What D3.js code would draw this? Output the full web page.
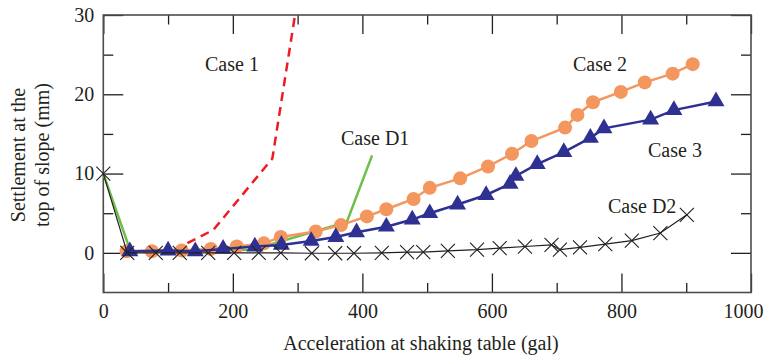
<!DOCTYPE html>
<html>
<head>
<meta charset="utf-8">
<script src="https://cdn.jsdelivr.net/npm/d3@7"></script>
<style>
  body { margin: 0; background: #fff; }
  text { font-family: "Liberation Serif", "Times New Roman", serif; fill: #231f20; }
</style>
</head>
<body>
<script>
// series (acceleration in gal, settlement in mm)
var case1X = [40, 108, 170, 261, 296];
var case1Y = [0, 0.3, 2.9, 11.9, 30];

var caseD1X = [0, 42, 230, 376, 415];
var caseD1Y = [10, 0.2, 0.4, 3.9, 12.3];

var case2X = [36, 75, 121, 166, 206, 248, 274, 328, 367, 407, 437, 479, 504, 551, 594, 631, 661, 713, 732, 756, 799, 836, 879, 910];
var case2Y = [0.2, 0.2, 0.3, 0.5, 0.8, 1.2, 2.0, 2.7, 3.5, 4.6, 5.5, 6.8, 8.2, 9.4, 10.9, 12.5, 14.1, 15.8, 17.4, 19.0, 20.3, 21.5, 22.6, 23.8];

var case3X = [41, 100, 142, 185, 234, 275, 321, 359, 391, 437, 477, 504, 547, 591, 628, 637, 670, 711, 752, 773, 845, 881, 946];
var case3Y = [0.2, 0.3, 0.2, 0.5, 0.8, 1.0, 1.5, 2.0, 2.6, 3.3, 4.2, 5.0, 6.1, 7.3, 8.7, 9.7, 11.2, 12.7, 14.5, 15.7, 16.8, 18.0, 19.1];

var caseD2X = [0, 37, 81, 118, 162, 202, 240, 274, 322, 358, 387, 430, 469, 494, 532, 577, 612, 651, 692, 705, 736, 775, 816, 860, 901];
var caseD2Y = [10, 0, 0, 0, 0, 0, 0, 0, -0.05, -0.05, -0.05, 0, 0.1, 0.1, 0.25, 0.4, 0.6, 0.8, 1.0, 0.4, 0.7, 1.1, 1.55, 2.5, 4.8];

var xMajor = [0, 200, 400, 600, 800, 1000];
var xMinor = [100, 300, 500, 700, 900];
var yMajor = [0, 10, 20, 30];
var yMinor = [5, 15, 25];

var svg = d3.select("body").append("svg").attr("width", 765).attr("height", 358);

var x = d3.scaleLinear().domain([0, 1000]).range([103.3, 751]);
var y = d3.scaleLinear().domain([-5, 30]).range([292.5, 15]);

function pts(xs, ys) { return xs.map(function(d, i) { return [d, ys[i]]; }); }
var line = d3.line().x(function(d) { return x(d[0]); }).y(function(d) { return y(d[1]); });

// axes, ticks pointing inward
function styleAxis(g) {
  g.select(".domain").remove();
  g.selectAll(".tick line").attr("stroke", "#231f20").attr("stroke-width", 1.3);
  g.selectAll("text").attr("font-size", "20px").attr("fill", "#231f20")
    .attr("font-family", "Liberation Serif, Times New Roman, serif");
}
svg.append("g").attr("transform", "translate(0," + y(-5) + ")")
  .call(d3.axisBottom(x).tickValues(xMajor).tickSize(-19).tickPadding(11).tickFormat(d3.format("d")))
  .call(styleAxis);
svg.append("g").attr("transform", "translate(0," + y(-5) + ")")
  .call(d3.axisBottom(x).tickValues(xMinor).tickSize(-9.5).tickFormat(""))
  .call(styleAxis);
svg.append("g").attr("transform", "translate(0," + y(30) + ")")
  .call(d3.axisTop(x).tickValues(xMajor).tickSize(-19).tickFormat(""))
  .call(styleAxis);
svg.append("g").attr("transform", "translate(0," + y(30) + ")")
  .call(d3.axisTop(x).tickValues(xMinor).tickSize(-9.5).tickFormat(""))
  .call(styleAxis);
svg.append("g").attr("transform", "translate(" + x(0) + ",0)")
  .call(d3.axisLeft(y).tickValues(yMajor).tickSize(-20).tickPadding(9).tickFormat(d3.format("d")))
  .call(styleAxis);
svg.append("g").attr("transform", "translate(" + x(0) + ",0)")
  .call(d3.axisLeft(y).tickValues(yMinor).tickSize(-10).tickFormat(""))
  .call(styleAxis);
svg.append("g").attr("transform", "translate(" + x(1000) + ",0)")
  .call(d3.axisRight(y).tickValues(yMajor).tickSize(-20).tickFormat(""))
  .call(styleAxis);
svg.append("g").attr("transform", "translate(" + x(1000) + ",0)")
  .call(d3.axisRight(y).tickValues(yMinor).tickSize(-10).tickFormat(""))
  .call(styleAxis);

// last label sits a little left in the original
svg.selectAll("text").filter(function() { return this.textContent == "1000"; }).attr("dx", -8);

svg.append("rect")
  .attr("x", x(0)).attr("y", y(30))
  .attr("width", x(1000) - x(0)).attr("height", y(-5) - y(30))
  .attr("fill", "none").attr("stroke", "#4d4d4d").attr("stroke-width", 1.6);

// Case D1 - green (drawn under the markers)
svg.append("path").datum(pts(caseD1X, caseD1Y)).attr("d", line)
  .attr("fill", "none").attr("stroke", "#6cbf4a").attr("stroke-width", 2.5);

// Case 1 - red dashed
svg.append("path").datum(pts(case1X, case1Y)).attr("d", line)
  .attr("fill", "none").attr("stroke", "#ed1c24").attr("stroke-width", 2.5)
  .attr("stroke-dasharray", "9,6");

// Case 2 - orange circles
svg.append("path").datum(pts(case2X, case2Y)).attr("d", line)
  .attr("fill", "none").attr("stroke", "#f4975f").attr("stroke-width", 2.5);
svg.selectAll(".c2").data(pts(case2X, case2Y)).enter().append("circle")
  .attr("cx", function(d) { return x(d[0]); }).attr("cy", function(d) { return y(d[1]); })
  .attr("r", 7).attr("fill", "#f4975f");

// Case 3 - blue triangles
svg.append("path").datum(pts(case3X, case3Y)).attr("d", line)
  .attr("fill", "none").attr("stroke", "#2e3192").attr("stroke-width", 2.5);
svg.selectAll(".c3").data(pts(case3X, case3Y)).enter().append("path")
  .attr("transform", function(d) { return "translate(" + x(d[0]) + "," + y(d[1]) + ")"; })
  .attr("d", d3.symbol().type(d3.symbolTriangle).size(125))
  .attr("fill", "#2e3192");

// Case D2 - black crosses
svg.append("path").datum(pts(caseD2X, caseD2Y)).attr("d", line)
  .attr("fill", "none").attr("stroke", "#231f20").attr("stroke-width", 1.2);
svg.selectAll(".d2").data(pts(caseD2X, caseD2Y)).enter().append("path")
  .attr("transform", function(d) { return "translate(" + x(d[0]) + "," + y(d[1]) + ")"; })
  .attr("d", "M-7,-7L7,7M-7,7L7,-7")
  .attr("stroke", "#231f20").attr("stroke-width", 1.1);

// case labels
var labels = [["Case 1", 205, 71], ["Case 2", 573, 71], ["Case 3", 648, 157], ["Case D1", 341, 145], ["Case D2", 608, 213]];
svg.selectAll(".lab").data(labels).enter().append("text")
  .attr("x", function(d) { return d[1]; }).attr("y", function(d) { return d[2]; })
  .attr("font-size", "20px")
  .text(function(d) { return d[0]; });

svg.append("text")
  .attr("x", 421).attr("y", 350).attr("text-anchor", "middle")
  .attr("font-size", "20px")
  .text("Acceleration at shaking table (gal)");

svg.append("text")
  .attr("transform", "translate(25,155) rotate(-90)").attr("text-anchor", "middle")
  .attr("font-size", "20px")
  .text("Settlement at the");
svg.append("text")
  .attr("transform", "translate(49,155) rotate(-90)").attr("text-anchor", "middle")
  .attr("font-size", "20px")
  .text("top of slope (mm)");
</script>
</body>
</html>
